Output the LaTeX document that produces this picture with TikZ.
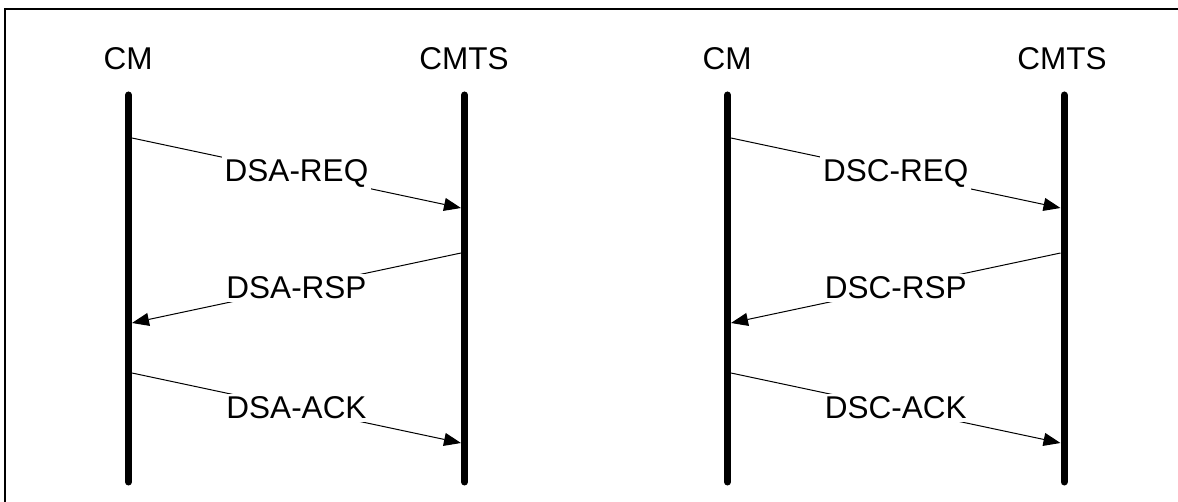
\documentclass[tikz,border=0pt]{standalone}
\usepackage{fontspec}
\setmainfont{Liberation Sans}
\usetikzlibrary{arrows.meta}
\begin{document}
\begin{tikzpicture}[x=1pt,y=-1pt,
  lbl/.style={font=\fontsize{31.5}{36}\selectfont, inner sep=0pt},
  msglbl/.style={font=\fontsize{31.5}{36}\selectfont, fill=white, inner sep=3pt},
  life/.style={line width=7pt, line cap=round},
  msg/.style={line width=1pt, -{Triangle[length=17pt,width=13pt]}},
  frame/.style={line width=2pt}]
\useasboundingbox (0,0) rectangle (1178,502);
% frame (cut at right and bottom)
\draw[frame] (5,502) -- (5,9) -- (1178,9);
% headers
\node[lbl] (cm1) at (128,59) {CM};
\node[lbl] (cmts1) at (1062,59) {CMTS};
\node[lbl] (cmtsA) at (464,59) {CMTS};
\node[lbl] (cm2) at (727,59) {CM};
% lifelines
\coordinate (l1t) at (128.5,95); \coordinate (l1b) at (128.5,482);
\coordinate (l2t) at (464.5,95); \coordinate (l2b) at (464.5,482);
\coordinate (l3t) at (727.5,95); \coordinate (l3b) at (727.5,482);
\coordinate (l4t) at (1064,95); \coordinate (l4b) at (1064,482);
\draw[life] (l1t) -- (l1b);
\draw[life] (l2t) -- (l2b);
\draw[life] (l3t) -- (l3b);
\draw[life] (l4t) -- (l4b);
% message points
\coordinate (a1) at (132,138); \coordinate (b1) at (461,208);
\coordinate (b2) at (461,253); \coordinate (a2) at (132,323);
\coordinate (a3) at (132,373); \coordinate (b3) at (461,443);
\coordinate (c1) at (731,138); \coordinate (d1) at (1060.5,208);
\coordinate (d2) at (1060.5,253); \coordinate (c2) at (731,323);
\coordinate (c3) at (731,373); \coordinate (d3) at (1060.5,443);
% messages
\draw[msg] (a1) -- node[msglbl] {DSA-REQ} (b1);
\draw[msg] (b2) -- node[msglbl] {DSA-RSP} (a2);
\draw[msg] (a3) -- node[msglbl] {DSA-ACK} (b3);
\draw[msg] (c1) -- node[msglbl] {DSC-REQ} (d1);
\draw[msg] (d2) -- node[msglbl] {DSC-RSP} (c2);
\draw[msg] (c3) -- node[msglbl] {DSC-ACK} (d3);
\end{tikzpicture}
\end{document}
